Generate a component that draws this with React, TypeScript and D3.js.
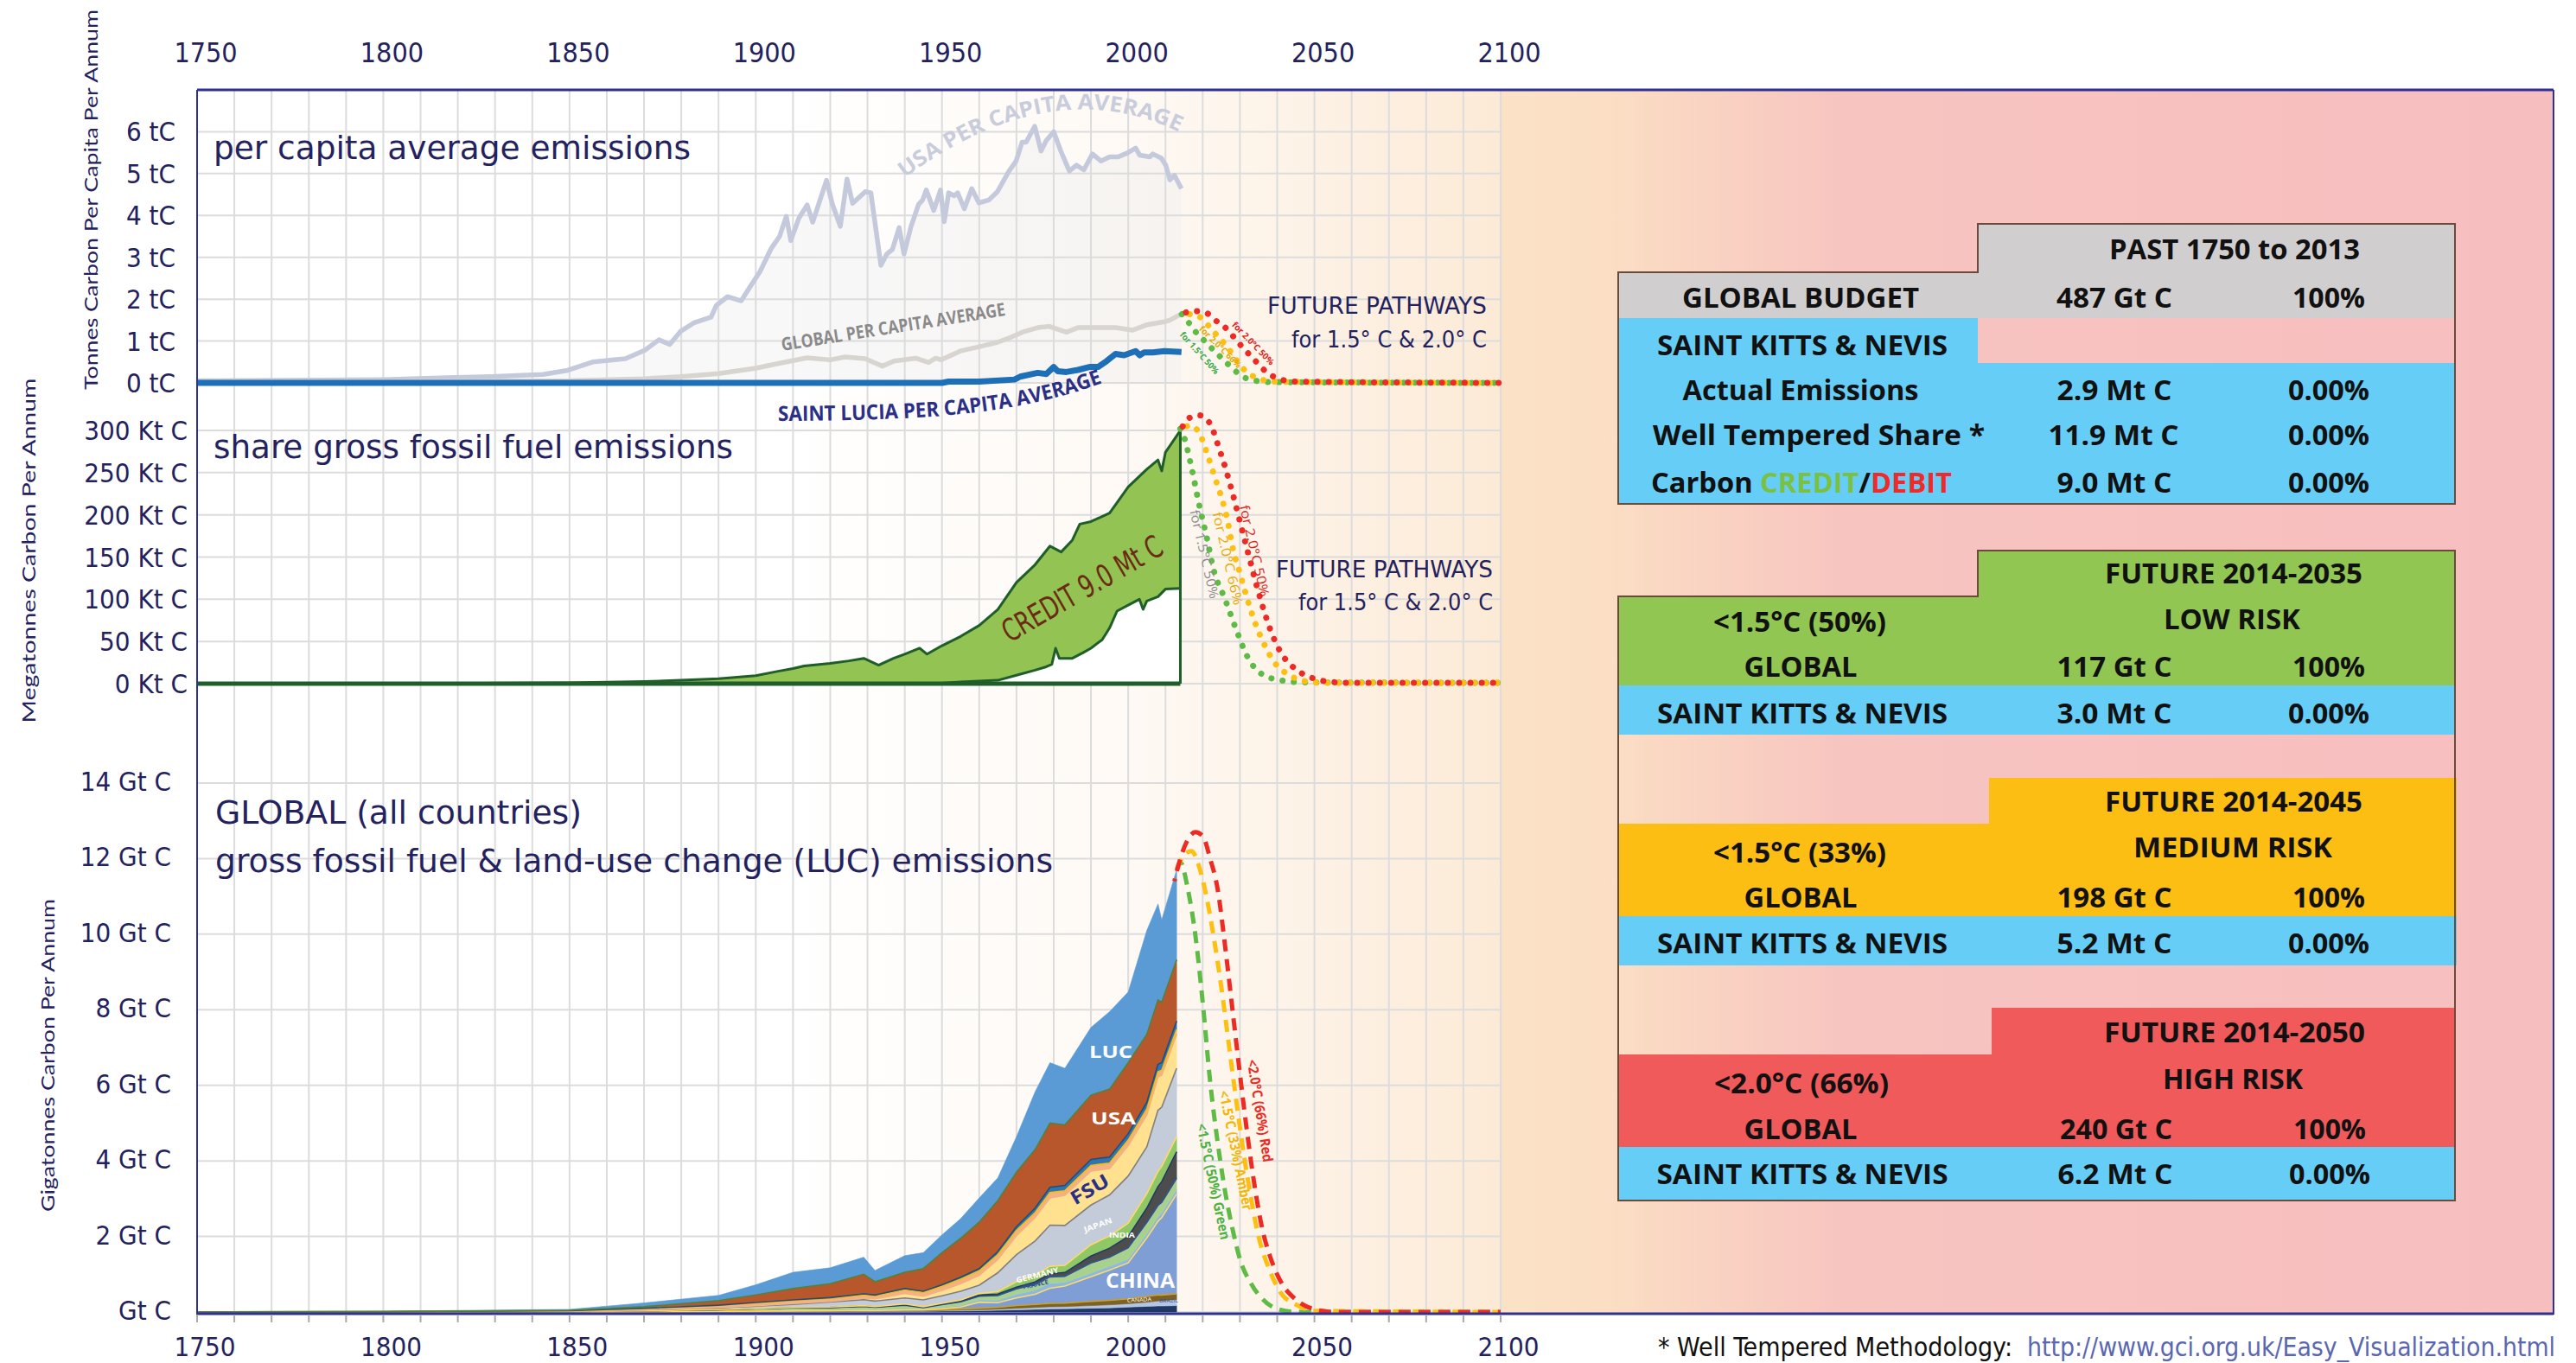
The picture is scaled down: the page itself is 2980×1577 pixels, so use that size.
import React from "react";
import * as d3 from "d3";

// ---------- per capita panel (tonnes C per capita) ----------
const usaYears = [1750, 1800, 1829, 1842.8, 1849.5, 1856.2, 1865, 1870.2, 1874, 1876.9, 1879.8, 1883.5, 1888, 1889.4, 1892.4, 1896.1, 1898.3, 1901.2, 1904.2, 1906.4, 1908.2, 1909.4, 1911.6, 1913.8, 1915.3, 1919, 1920.5, 1922.7, 1924.5, 1926, 1929.4, 1930.9, 1933.6, 1935.2, 1936.7, 1938.5, 1939.8, 1941.7, 1943.7, 1944.8, 1945.8, 1947.8, 1949.6, 1950.6, 1951.8, 1953.3, 1954.2, 1956, 1958, 1959.9, 1962.6, 1964.9, 1968, 1969.9, 1971.5, 1972.6, 1974.9, 1976.6, 1978, 1980, 1981.9, 1984.2, 1986.1, 1988.1, 1990.4, 1992.7, 1995, 1997.3, 1999.7, 2002, 2003.1, 2005.8, 2006.6, 2008.9, 2010.1, 2011.2, 2012.4, 2014.3];
const usaValues = [0.05, 0.08, 0.15, 0.2, 0.3, 0.5, 0.58, 0.78, 1.03, 0.92, 1.23, 1.44, 1.57, 1.85, 2.06, 1.96, 2.27, 2.67, 3.22, 3.5, 3.98, 3.4, 3.94, 4.25, 3.84, 4.84, 4.29, 3.74, 4.87, 4.29, 4.57, 4.54, 2.81, 3.08, 3.19, 3.71, 3.08, 3.74, 4.26, 4.37, 4.61, 4.12, 4.61, 3.85, 4.54, 4.47, 4.54, 4.16, 4.64, 4.3, 4.37, 4.57, 5.06, 5.3, 5.75, 5.75, 6.13, 5.54, 5.79, 6.0, 5.54, 5.06, 5.2, 5.09, 5.47, 5.3, 5.4, 5.4, 5.49, 5.61, 5.44, 5.4, 5.47, 5.37, 5.2, 4.85, 4.96, 4.64];

const globalYears = [1750, 1800, 1850, 1870, 1880, 1890, 1900, 1906.4, 1913.8, 1920, 1924, 1929.4, 1934, 1937.1, 1942.9, 1946.4, 1948.3, 1949.8, 1954.9, 1960.3, 1964.9, 1968, 1971.5, 1975.7, 1978.8, 1983.4, 1986.5, 1991.2, 1996.6, 2001.2, 2005.1, 2009.7, 2011.2, 2013.9];
const globalValues = [0.02, 0.03, 0.05, 0.1, 0.15, 0.22, 0.35, 0.47, 0.6, 0.55, 0.62, 0.58, 0.4, 0.52, 0.59, 0.49, 0.59, 0.55, 0.76, 0.87, 0.97, 1.07, 1.21, 1.32, 1.35, 1.21, 1.32, 1.32, 1.32, 1.26, 1.39, 1.46, 1.5, 1.63];

const luciaYears = [1750, 1950, 1951.8, 1960, 1969.5, 1971, 1975.7, 1978, 1980, 1981.1, 1983.4, 1986.5, 1989.6, 1991.9, 1994.2, 1996.6, 1998.9, 2002, 2003.1, 2004.3, 2006.6, 2009.7, 2014.3];
const luciaValues = [0, 0, 0.03, 0.03, 0.08, 0.15, 0.24, 0.21, 0.38, 0.28, 0.26, 0.31, 0.38, 0.38, 0.52, 0.69, 0.66, 0.76, 0.66, 0.73, 0.73, 0.76, 0.74];

const pc15Years = [2014.4, 2016.6, 2018, 2020.3, 2023.3, 2026.2, 2029.1, 2032, 2038, 2100];
const pc15Values = [1.64, 1.4, 1.23, 1.02, 0.75, 0.5, 0.26, 0.1, 0.02, 0];
const pc20aYears = [2014.4, 2017.3, 2020.3, 2022.5, 2024.7, 2026.9, 2029.1, 2031.3, 2034.3, 2039.4, 2100];
const pc20aValues = [1.64, 1.64, 1.5, 1.26, 1.06, 0.82, 0.54, 0.3, 0.13, 0.03, 0];
const pc20bYears = [2014.4, 2017.3, 2021, 2023.3, 2025.5, 2028.4, 2030.7, 2033.6, 2036.6, 2039.5, 2044.7, 2100];
const pc20bValues = [1.64, 1.72, 1.67, 1.5, 1.37, 1.09, 0.85, 0.58, 0.3, 0.13, 0.03, 0];

// ---------- share panel (Kt C) ----------
const shareYears = [1750, 1800, 1850, 1870, 1880, 1890, 1900, 1906, 1910, 1913, 1920, 1925, 1929, 1933, 1937, 1940, 1944, 1946, 1950, 1955, 1960, 1965, 1970, 1975, 1979, 1982, 1985, 1987, 1990, 1995, 2000, 2005, 2008, 2009, 2010, 2014];
const shareValues = [0, 0.1, 1, 2.5, 4, 6, 9.5, 14.7, 18, 21, 24, 27, 30, 22, 30, 35, 42, 35, 45, 56, 69, 88, 120, 141, 163, 156, 170, 189, 192, 202, 233, 254, 265, 252, 274, 300];
const actualYears = [1750, 1900, 1950, 1955, 1965, 1970, 1975, 1978, 1979.5, 1980.5, 1981.5, 1985, 1988, 1990, 1993, 1995, 1997, 2000, 2003, 2004, 2005, 2008, 2010, 2014];
const actualValues = [0, 0, 0.5, 2, 4, 10, 16, 20, 23, 42, 30, 30, 37, 42, 52, 66, 86, 93, 100, 88, 98, 103, 112, 113];

const sh15Years = [2014, 2015, 2017, 2019, 2021, 2023, 2026, 2029, 2032, 2036, 2041, 2047, 2100];
const sh15Values = [302, 292, 256, 213, 175, 134, 100, 64, 32, 11, 4, 1.5, 1];
const sh20aYears = [2014, 2016.7, 2019.3, 2021.3, 2023.3, 2025.3, 2026.7, 2028, 2030, 2032, 2034, 2036.7, 2039.3, 2043.3, 2047.3, 2052.7, 2100];
const sh20aValues = [300, 306, 295, 271, 244, 217, 193, 162, 131, 100, 73, 45, 25, 10, 3, 1, 1];
const sh20bYears = [2014, 2016.5, 2019, 2022, 2024, 2026, 2028, 2030, 2032, 2034, 2036, 2038, 2040.7, 2044.7, 2048.7, 2052.7, 2059, 2100];
const sh20bValues = [300, 315, 318, 308, 284, 257, 226, 192, 158, 124, 93, 66, 39, 18, 8, 3, 1, 1];

// ---------- global panel (Gt C), stacked bottom -> top ----------
const stackYears = [1750, 1800, 1850, 1870, 1890, 1900, 1910, 1920, 1929, 1932, 1940, 1945, 1950, 1955, 1960, 1965, 1970, 1975, 1979, 1983, 1990, 1995, 2000, 2005, 2008, 2009, 2013];
const other = [0, 0, 0.001, 0.003, 0.006, 0.008, 0.01, 0.012, 0.015, 0.014, 0.018, 0.02, 0.025, 0.03, 0.035, 0.045, 0.06, 0.07, 0.08, 0.085, 0.1, 0.11, 0.13, 0.15, 0.16, 0.16, 0.17];
const brazil = [0, 0, 0.001, 0.002, 0.003, 0.004, 0.005, 0.006, 0.008, 0.007, 0.01, 0.012, 0.015, 0.02, 0.025, 0.03, 0.04, 0.05, 0.06, 0.06, 0.07, 0.08, 0.09, 0.11, 0.13, 0.14, 0.16];
const canada = [0, 0, 0.001, 0.003, 0.006, 0.008, 0.012, 0.014, 0.016, 0.012, 0.018, 0.02, 0.025, 0.03, 0.04, 0.05, 0.07, 0.08, 0.09, 0.09, 0.11, 0.12, 0.13, 0.15, 0.16, 0.15, 0.15];
const china = [0, 0, 0, 0, 0.001, 0.002, 0.003, 0.004, 0.006, 0.006, 0.01, 0.006, 0.02, 0.05, 0.16, 0.12, 0.2, 0.27, 0.4, 0.45, 0.65, 0.8, 0.95, 1.55, 1.95, 2.05, 2.64];
const france = [0, 0.001, 0.004, 0.01, 0.017, 0.02, 0.025, 0.03, 0.035, 0.032, 0.035, 0.02, 0.04, 0.05, 0.06, 0.07, 0.1, 0.11, 0.13, 0.1, 0.1, 0.1, 0.1, 0.11, 0.12, 0.12, 0.12];
const germany = [0, 0.001, 0.004, 0.012, 0.025, 0.04, 0.055, 0.05, 0.07, 0.055, 0.09, 0.04, 0.07, 0.09, 0.1, 0.12, 0.14, 0.15, 0.17, 0.16, 0.27, 0.24, 0.3, 0.3, 0.3, 0.28, 0.3];
const india = [0, 0, 0, 0.001, 0.003, 0.004, 0.005, 0.006, 0.008, 0.008, 0.01, 0.012, 0.018, 0.022, 0.03, 0.04, 0.05, 0.065, 0.08, 0.1, 0.18, 0.24, 0.3, 0.38, 0.5, 0.55, 0.7];
const japan = [0, 0, 0, 0, 0.002, 0.003, 0.005, 0.008, 0.01, 0.01, 0.02, 0.01, 0.015, 0.025, 0.04, 0.07, 0.14, 0.18, 0.2, 0.19, 0.3, 0.32, 0.35, 0.38, 0.4, 0.4, 0.4];
const rest = [0.001, 0.002, 0.009, 0.027, 0.047, 0.064, 0.084, 0.135, 0.157, 0.144, 0.159, 0.18, 0.202, 0.233, 0.22, 0.495, 0.72, 0.905, 1.09, 1.055, 1.05, 1.09, 1.25, 1.24, 1.62, 1.57, 1.81];
const fsu = [0, 0, 0.001, 0.003, 0.007, 0.015, 0.02, 0.015, 0.04, 0.06, 0.12, 0.1, 0.14, 0.2, 0.26, 0.35, 0.5, 0.62, 0.72, 0.8, 0.9, 0.7, 0.8, 0.85, 0.88, 0.85, 0.9];
const uk = [0.002, 0.005, 0.012, 0.035, 0.055, 0.07, 0.08, 0.08, 0.09, 0.08, 0.1, 0.1, 0.11, 0.12, 0.12, 0.13, 0.14, 0.13, 0.14, 0.12, 0.15, 0.14, 0.15, 0.15, 0.14, 0.13, 0.13];
const europe = [0, 0, 0.002, 0.004, 0.008, 0.012, 0.016, 0.02, 0.025, 0.022, 0.03, 0.03, 0.04, 0.05, 0.06, 0.08, 0.1, 0.12, 0.14, 0.14, 0.16, 0.16, 0.17, 0.18, 0.2, 0.2, 0.22];
const usa = [0.0003, 0.001, 0.01, 0.04, 0.12, 0.2, 0.3, 0.37, 0.52, 0.35, 0.43, 0.6, 0.85, 1.03, 1.23, 1.35, 1.44, 1.55, 1.7, 1.6, 1.7, 1.8, 1.88, 1.8, 1.7, 1.6, 1.62];
const luc = [0.004, 0.011, 0.025, 0.1, 0.14, 0.27, 0.43, 0.42, 0.45, 0.3, 0.44, 0.42, 0.47, 0.52, 0.64, 0.6, 0.94, 1.53, 1.6, 1.5, 1.79, 2.05, 1.87, 2.75, 2.54, 2.18, 2.38];

const layerKeys = ["other", "brazil", "canada", "china", "france", "germany", "india", "japan", "rest", "fsu", "uk", "europe", "usa", "luc"];
const layerData: Record<string, number[]> = { other, brazil, canada, china, france, germany, india, japan, rest, fsu, uk, europe, usa, luc };
const layerColors: Record<string, string> = {
  other: "#1F3864", brazil: "#B4C6E7", canada: "#7F6124", china: "#7F9ED6", france: "#8DB8E4",
  germany: "#A9D18E", india: "#4D4D4D", japan: "#8FC866", rest: "#C3CCD8", fsu: "#FFE18F",
  uk: "#F4B183", europe: "#2E75B6", usa: "#B7572B", luc: "#5B9BD5",
};
// thin coloured edge drawn on the top of some layers (the original has many thin stripes)
const layerEdges: Record<string, string> = {
  canada: "#C9A227", china: "#FFD966", germany: "#2F5597", india: "#203864", japan: "#FFD966",
  rest: "#7F7F7F", fsu: "#F4B183", uk: "#FFC000", europe: "#1F4E79", usa: "#548235",
};

const gl15Years = [2013, 2014, 2016, 2018, 2020, 2022, 2024, 2026, 2028, 2030, 2033, 2036, 2040, 2045, 2100];
const gl15Values = [11.7, 11.9, 11.2, 10.0, 8.2, 6.1, 4.5, 3.2, 2.2, 1.4, 0.75, 0.35, 0.08, 0, 0];
const gl33Years = [2013, 2015, 2017, 2019, 2021, 2023, 2025, 2027, 2029, 2031, 2033, 2035, 2038, 2041, 2045, 2050, 2100];
const gl33Values = [11.7, 12.1, 12.2, 11.8, 11.0, 9.9, 8.6, 7.1, 5.6, 4.2, 3.0, 2.0, 1.1, 0.5, 0.2, 0.03, 0];
const gl20Years = [2012.4, 2014, 2016, 2018, 2020, 2022, 2024, 2026, 2028, 2030, 2032, 2034, 2036, 2038, 2041, 2045, 2050, 2055, 2100];
const gl20Values = [11.4, 12.0, 12.5, 12.7, 12.6, 12.0, 11.2, 9.7, 8.0, 6.3, 4.7, 3.3, 2.2, 1.5, 0.8, 0.33, 0.07, 0, 0];

const pcTicks = [0, 1, 2, 3, 4, 5, 6];
const shareTicks = [0, 50, 100, 150, 200, 250, 300];
const globalTicks = [0, 2, 4, 6, 8, 10, 12, 14];
const yearTicks = [1750, 1800, 1850, 1900, 1950, 2000, 2050, 2100];

const NAVY = "#24225E";
const NARROW = "'Liberation Sans Narrow', 'DejaVu Sans Condensed', 'Open Sans', sans-serif";
const BOLD = "'Open Sans', 'Liberation Sans', sans-serif";
const GEO = "Lato, 'DejaVu Sans', sans-serif";
const GREEN = "#5DBB46";
const AMBER = "#FDC010";
const RED = "#EE2A24";

const zip = (xs: number[], ys: number[]) => xs.map((v, i) => [v, ys[i]] as [number, number]);

export default function App() {
  const x = d3.scaleLinear().domain([1750, 2100]).range([228, 1736]);
  const y1 = d3.scaleLinear().domain([0, 7]).range([443, 104]);
  const y2 = d3.scaleLinear().domain([0, 300]).range([791, 498]);
  const y3 = d3.scaleLinear().domain([0, 14]).range([1518, 906]);

  const line1 = d3.line<[number, number]>().x((d) => x(d[0])).y((d) => y1(d[1]));
  const smooth1 = d3.line<[number, number]>().x((d) => x(d[0])).y((d) => y1(d[1])).curve(d3.curveMonotoneX);
  const area1 = d3.area<[number, number]>().x((d) => x(d[0])).y0(y1(0)).y1((d) => y1(d[1]));
  const line2 = d3.line<[number, number]>().x((d) => x(d[0])).y((d) => y2(d[1]));
  const smooth2 = d3.line<[number, number]>().x((d) => x(d[0])).y((d) => y2(d[1])).curve(d3.curveMonotoneX);
  const area2 = d3.area<[number, number]>().x((d) => x(d[0])).y0(y2(0)).y1((d) => y2(d[1]));
  const smooth3 = d3.line<[number, number]>().x((d) => x(d[0])).y((d) => y3(d[1])).curve(d3.curveMonotoneX);

  const rows = stackYears.map((year, i) => {
    const r: any = { year };
    layerKeys.forEach((k) => (r[k] = layerData[k][i]));
    return r;
  });
  const series = d3.stack<any>().keys(layerKeys)(rows);
  const stackArea = d3.area<any>().x((d) => x(d.data.year)).y0((d) => y3(d[0])).y1((d) => y3(d[1]));
  const stackTop = d3.line<any>().x((d) => x(d.data.year)).y((d) => y3(d[1]));

  const decades = d3.range(1760, 2101, 10);

  const dots = { strokeWidth: 7, strokeLinecap: "round" as const, strokeDasharray: "0.1 13", fill: "none" };
  const dashes = { strokeWidth: 5, strokeDasharray: "14 9", fill: "none" };

  const cell = (t: string, cx: number, cy: number, len: number, extra: any = {}) => (
    <text x={cx} y={cy} textAnchor="middle" dominantBaseline="central" fontFamily={BOLD} fontWeight={700}
      fontSize={32} fill="#111" textLength={len} lengthAdjust="spacingAndGlyphs" {...extra}>{t}</text>
  );
  const rot = (t: string, cx: number, cy: number, angle: number, len: number, fill: string, size: number, extra: any = {}) => (
    <text transform={`translate(${cx},${cy}) rotate(${angle})`} textAnchor="middle" dominantBaseline="central"
      fontFamily={BOLD} fontSize={size} fill={fill} textLength={len} lengthAdjust="spacingAndGlyphs" {...extra}>{t}</text>
  );

  return (
    <svg width={2980} height={1577} style={{ position: "fixed", left: 0, top: 0, background: "#fff" }}>
      <defs>
        <linearGradient id="plotBg" gradientUnits="userSpaceOnUse" x1={228} x2={1736} y1={0} y2={0}>
          <stop offset="0" stopColor="#FFFFFF" />
          <stop offset="0.45" stopColor="#FFFFFF" />
          <stop offset="0.72" stopColor="#FEF9F4" />
          <stop offset="1" stopColor="#FCEAD6" />
        </linearGradient>
        <linearGradient id="rightBg" gradientUnits="userSpaceOnUse" x1={1736} x2={2954} y1={0} y2={0}>
          <stop offset="0" stopColor="#FBE2C6" />
          <stop offset="0.1" stopColor="#FBDEC4" />
          <stop offset="0.33" stopColor="#F7C4C0" />
          <stop offset="1" stopColor="#F7BEBF" />
        </linearGradient>
        <path id="usaArc" d="M 1048 205 Q 1215 82 1362 152" fill="none" />
        <path id="luciaArc" d="M 900 487 C 1060 486, 1170 483, 1284 440" fill="none" />
      </defs>

      {/* backgrounds */}
      <rect x={228} y={104} width={1508} height={1417} fill="url(#plotBg)" />
      <rect x={1736} y={104} width={1218} height={1417} fill="url(#rightBg)" />

      {/* USA per capita shading */}
      <path d={area1(zip(usaYears, usaValues)) || ""} fill="#EBEBEF" opacity={0.35} />

      {/* grid */}
      {decades.map((yr) => (
        <line key={yr} x1={x(yr)} x2={x(yr)} y1={104} y2={1518} stroke="#DCDCDC" strokeWidth={2} />
      ))}
      {pcTicks.map((v) => <line key={"g1" + v} x1={228} x2={1736} y1={y1(v)} y2={y1(v)} stroke="#DCDCDC" strokeWidth={2} />)}
      {shareTicks.map((v) => <line key={"g2" + v} x1={228} x2={1736} y1={y2(v)} y2={y2(v)} stroke="#DCDCDC" strokeWidth={2} />)}
      {globalTicks.map((v) => <line key={"g3" + v} x1={228} x2={1736} y1={y3(v)} y2={y3(v)} stroke="#DCDCDC" strokeWidth={2} />)}

      {/* ---------- panel 1 ---------- */}
      <path d={line1(zip(usaYears, usaValues)) || ""} fill="none" stroke="#C4C9DB" strokeWidth={5.5} strokeLinejoin="round" />
      <path d={line1(zip(globalYears, globalValues)) || ""} fill="none" stroke="#D8D4CF" strokeWidth={5.5} strokeLinejoin="round" />
      <path d={line1(zip(luciaYears, luciaValues)) || ""} fill="none" stroke="#1D6FB8" strokeWidth={7} strokeLinejoin="round" />
      <path d={smooth1(zip(pc15Years, pc15Values)) || ""} stroke={GREEN} {...dots} />
      <path d={smooth1(zip(pc20aYears, pc20aValues)) || ""} stroke={AMBER} {...dots} strokeDashoffset={4} />
      <path d={smooth1(zip(pc20bYears, pc20bValues)) || ""} stroke={RED} {...dots} strokeDashoffset={8} />

      <text x={247} y={184} fontFamily={NARROW} fontSize={38} fill={NAVY} textLength={552} lengthAdjust="spacingAndGlyphs">per capita average emissions</text>
      <text fontFamily={BOLD} fontWeight={700} fontSize={25} fill="#C9CDDB">
        <textPath href="#usaArc" startOffset="50%" textAnchor="middle" textLength={340} lengthAdjust="spacingAndGlyphs">USA PER CAPITA AVERAGE</textPath>
      </text>
      <text transform="translate(905,406) rotate(-9)" fontFamily={BOLD} fontWeight={700} fontSize={21} fill="#8A8A8A" textLength={262} lengthAdjust="spacingAndGlyphs">GLOBAL PER CAPITA AVERAGE</text>
      <text fontFamily={BOLD} fontWeight={700} fontSize={24} fill="#2B2F86">
        <textPath href="#luciaArc" textLength={380} lengthAdjust="spacingAndGlyphs">SAINT LUCIA PER CAPITA AVERAGE</textPath>
      </text>
      <text x={1720} y={363} textAnchor="end" fontFamily={NARROW} fontSize={26} fill={NAVY} textLength={254} lengthAdjust="spacingAndGlyphs">FUTURE PATHWAYS</text>
      <text x={1720} y={402} textAnchor="end" fontFamily={NARROW} fontSize={26} fill={NAVY} textLength={226} lengthAdjust="spacingAndGlyphs">for 1.5° C &amp; 2.0° C</text>
      {rot("for 1.5°C 50%", 1388, 408, 48, 62, "#3BAA48", 10, { fontWeight: 700 })}
      {rot("for 2.0°C 66%", 1412, 401, 45, 64, "#E8A800", 10, { fontWeight: 700 })}
      {rot("for 2.0°C 50%", 1450, 397, 46, 65, "#E02020", 10, { fontWeight: 700 })}

      {/* ---------- panel 2 ---------- */}
      <path d={area2(zip(shareYears, shareValues)) || ""} fill="#92C353" />
      <path d={area2(zip(actualYears, actualValues)) || ""} fill="#FFFFFF" />
      <path d={line2(zip(shareYears, shareValues)) || ""} fill="none" stroke="#1F5E2A" strokeWidth={3} strokeLinejoin="round" />
      <path d={line2(zip(actualYears, actualValues)) || ""} fill="none" stroke="#1F5E2A" strokeWidth={3} strokeLinejoin="round" />
      <line x1={x(1750)} x2={x(2014)} y1={y2(0)} y2={y2(0)} stroke="#1F5E2A" strokeWidth={5} />
      <line x1={x(2014)} x2={x(2014)} y1={y2(0)} y2={y2(300)} stroke="#1F5E2A" strokeWidth={3} />
      <path d={smooth2(zip(sh15Years, sh15Values)) || ""} stroke={GREEN} {...dots} />
      <path d={smooth2(zip(sh20aYears, sh20aValues)) || ""} stroke={AMBER} {...dots} strokeDashoffset={4} />
      <path d={smooth2(zip(sh20bYears, sh20bValues)) || ""} stroke={RED} {...dots} strokeDashoffset={8} />

      <text x={247} y={530} fontFamily={NARROW} fontSize={38} fill={NAVY} textLength={601} lengthAdjust="spacingAndGlyphs">share gross fossil fuel emissions</text>
      <text transform="translate(1258,692) rotate(-30)" textAnchor="middle" fontFamily={NARROW} fontSize={36} fill="#6B2A12" textLength={208} lengthAdjust="spacingAndGlyphs">CREDIT 9.0 Mt C</text>
      <text x={1727} y={668} textAnchor="end" fontFamily={NARROW} fontSize={26} fill={NAVY} textLength={251} lengthAdjust="spacingAndGlyphs">FUTURE PATHWAYS</text>
      <text x={1727} y={706} textAnchor="end" fontFamily={NARROW} fontSize={26} fill={NAVY} textLength={225} lengthAdjust="spacingAndGlyphs">for 1.5° C &amp; 2.0° C</text>
      {rot("for 1.5°C 50%", 1394, 641, 77, 105, "#8C8C8C", 15)}
      {rot("for 2.0°C 66%", 1421, 646, 77, 110, "#E8A800", 15)}
      {rot("for 2.0°C 50%", 1452, 637, 77, 108, "#E02020", 15)}

      {/* ---------- panel 3 ---------- */}
      {series.map((s) => (
        <path key={s.key} d={stackArea(s as any) || ""} fill={layerColors[s.key]} stroke={layerColors[s.key]} strokeWidth={0.6} />
      ))}
      {series.filter((s) => layerEdges[s.key]).map((s) => (
        <path key={"e" + s.key} d={stackTop(s as any) || ""} fill="none" stroke={layerEdges[s.key]} strokeWidth={1.6} />
      ))}
      <path d={smooth3(zip(gl15Years, gl15Values)) || ""} stroke={GREEN} {...dashes} />
      <path d={smooth3(zip(gl33Years, gl33Values)) || ""} stroke={AMBER} {...dashes} />
      <path d={smooth3(zip(gl20Years, gl20Values)) || ""} stroke={RED} {...dashes} strokeDashoffset={11} />

      <text x={249} y={953} fontFamily={NARROW} fontSize={38} fill={NAVY} textLength={424} lengthAdjust="spacingAndGlyphs">GLOBAL (all countries)</text>
      <text x={249} y={1009} fontFamily={NARROW} fontSize={38} fill={NAVY} textLength={969} lengthAdjust="spacingAndGlyphs">gross fossil fuel &amp; land-use change (LUC) emissions</text>
      {rot("LUC", 1285, 1216, 0, 50, "#FFFFFF", 20, { fontWeight: 700 })}
      {rot("USA", 1288, 1293, 0, 52, "#FFFFFF", 20, { fontWeight: 700 })}
      {rot("FSU", 1260, 1375, -30, 48, "#2B2F86", 22, { fontWeight: 700 })}
      {rot("JAPAN", 1270, 1417, -20, 34, "#FFFFFF", 9, { fontWeight: 700 })}
      {rot("INDIA", 1298, 1428, 0, 30, "#FFFFFF", 9, { fontWeight: 700 })}
      {rot("GERMANY", 1200, 1475, -14, 50, "#FFFFFF", 9, { fontWeight: 700 })}
      {rot("FRANCE", 1198, 1486, -12, 30, "#2B4F9E", 7, { fontWeight: 700 })}
      {rot("CHINA", 1319, 1480, 0, 80, "#FFFFFF", 24, { fontWeight: 700 })}
      {rot("CANADA", 1318, 1504, -3, 28, "#FFFFFF", 6)}
      {rot("BRAZIL", 1352, 1505, 0, 22, "#2B4F9E", 6)}
      {rot("<2.0°C (66%) Red", 1458, 1285, 81, 120, RED, 16, { fontWeight: 700 })}
      {rot("<1.5°C (33%) Amber", 1430, 1331, 78.5, 141, "#F2B705", 16, { fontWeight: 700 })}
      {rot("<1.5°C (50%) Green", 1404, 1367, 78, 137, "#4FB244", 16, { fontWeight: 700 })}

      {/* ---------- frame & axes ---------- */}
      <line x1={228} x2={2954} y1={104} y2={104} stroke="#2E3192" strokeWidth={3} />
      <line x1={228} x2={228} y1={104} y2={1521} stroke="#2E3192" strokeWidth={2} />
      <line x1={2954} x2={2954} y1={104} y2={1521} stroke="#2E3192" strokeWidth={2} />
      <line x1={228} x2={2954} y1={1520} y2={1520} stroke="#2E3192" strokeWidth={3} />
      {[1750, ...decades].map((yr) => (
        <line key={"t" + yr} x1={x(yr)} x2={x(yr)} y1={1521} y2={1530} stroke="#AAAAAA" strokeWidth={2} />
      ))}
      {yearTicks.map((yr) => (
        <g key={"yl" + yr}>
          <text x={x(yr) + 10} y={72} textAnchor="middle" fontFamily={NARROW} fontSize={32} fill={NAVY}>{yr}</text>
          <text x={x(yr) + 9} y={1569} textAnchor="middle" fontFamily={NARROW} fontSize={31} fill={NAVY}>{yr}</text>
        </g>
      ))}
      {pcTicks.map((v) => (
        <text key={"l1" + v} x={203} y={y1(v)} textAnchor="end" dominantBaseline="central" fontFamily={NARROW} fontSize={31} fill={NAVY}>{`${v} tC`}</text>
      ))}
      {shareTicks.map((v) => (
        <text key={"l2" + v} x={217} y={y2(v)} textAnchor="end" dominantBaseline="central" fontFamily={NARROW} fontSize={31} fill={NAVY}>{`${v} Kt C`}</text>
      ))}
      {globalTicks.map((v) => (
        <text key={"l3" + v} x={198} y={y3(v) - 2} textAnchor="end" dominantBaseline="central" fontFamily={NARROW} fontSize={31} fill={NAVY}>{v === 0 ? "Gt C" : `${v} Gt C`}</text>
      ))}
      <text transform="translate(104,231) rotate(-90)" textAnchor="middle" dominantBaseline="central" fontFamily={GEO} fontSize={22} fill={NAVY} textLength={440} lengthAdjust="spacingAndGlyphs">Tonnes Carbon Per Capita Per Annum</text>
      <text transform="translate(32,637) rotate(-90)" textAnchor="middle" dominantBaseline="central" fontFamily={GEO} fontSize={22} fill={NAVY} textLength={399} lengthAdjust="spacingAndGlyphs">Megatonnes Carbon Per Annum</text>
      <text transform="translate(54,1221) rotate(-90)" textAnchor="middle" dominantBaseline="central" fontFamily={GEO} fontSize={22} fill={NAVY} textLength={362} lengthAdjust="spacingAndGlyphs">Gigatonnes Carbon Per Annum</text>

      {/* ---------- tables ---------- */}
      <rect x={2288} y={259} width={552} height={58} fill="#D0CECE" />
      <rect x={1872} y={315} width={968} height={53} fill="#D0CECE" />
      <rect x={1872} y={368} width={416} height={52} fill="#66CDF6" />
      <rect x={1872} y={420} width={968} height={163} fill="#66CDF6" />
      <path d="M 2288 259 H 2840 V 583 H 1872 V 315 H 2288 Z" fill="none" stroke="#6B4A3A" strokeWidth={2} />
      {cell("PAST 1750 to 2013", 2585, 287, 290)}
      {cell("GLOBAL BUDGET", 2083, 343, 274)}
      {cell("487 Gt C", 2446, 343, 134)}
      {cell("100%", 2694, 343, 84)}
      {cell("SAINT KITTS & NEVIS", 2085, 398, 336)}
      {cell("Actual Emissions", 2083, 450, 273)}
      {cell("2.9 Mt C", 2446, 450, 133)}
      {cell("0.00%", 2694, 450, 94)}
      {cell("Well Tempered Share *", 2104, 502, 384)}
      {cell("11.9 Mt C", 2445, 502, 151)}
      {cell("0.00%", 2694, 502, 94)}
      <text x={2084} y={557} textAnchor="middle" dominantBaseline="central" fontFamily={BOLD} fontWeight={700} fontSize={32} fill="#111" textLength={348} lengthAdjust="spacingAndGlyphs">
        Carbon <tspan fill="#7AC143">CREDIT</tspan>/<tspan fill="#EE2B2B">DEBIT</tspan>
      </text>
      {cell("9.0 Mt C", 2446, 557, 133)}
      {cell("0.00%", 2694, 557, 94)}

      <rect x={2288} y={637} width={552} height={53} fill="#92C653" />
      <rect x={1872} y={690} width={968} height={103} fill="#92C653" />
      <rect x={1872} y={793} width={968} height={57} fill="#66CDF6" />
      {cell("FUTURE 2014-2035", 2584, 662, 298)}
      {cell("<1.5°C (50%)", 2082, 718, 200)}
      {cell("LOW RISK", 2582, 715, 158)}
      {cell("GLOBAL", 2083, 770, 131)}
      {cell("117 Gt C", 2446, 770, 133)}
      {cell("100%", 2694, 770, 84)}
      {cell("SAINT KITTS & NEVIS", 2085, 824, 336)}
      {cell("3.0 Mt C", 2446, 824, 133)}
      {cell("0.00%", 2694, 824, 94)}

      <rect x={2301} y={900} width={541} height={53} fill="#FCBE12" />
      <rect x={1872} y={953} width={970} height={107} fill="#FCBE12" />
      <rect x={1872} y={1060} width={970} height={57} fill="#66CDF6" />
      {cell("FUTURE 2014-2045", 2584, 926, 298)}
      {cell("<1.5°C (33%)", 2082, 985, 200)}
      {cell("MEDIUM RISK", 2583, 979, 230)}
      {cell("GLOBAL", 2083, 1037, 131)}
      {cell("198 Gt C", 2446, 1037, 133)}
      {cell("100%", 2694, 1037, 84)}
      {cell("SAINT KITTS & NEVIS", 2085, 1090, 336)}
      {cell("5.2 Mt C", 2446, 1090, 133)}
      {cell("0.00%", 2694, 1090, 94)}

      <rect x={2304} y={1166} width={536} height={54} fill="#F05A5B" />
      <rect x={1872} y={1220} width={968} height={107} fill="#F05A5B" />
      <rect x={1872} y={1327} width={968} height={62} fill="#66CDF6" />
      {cell("FUTURE 2014-2050", 2585, 1193, 302)}
      {cell("<2.0°C (66%)", 2084, 1252, 202)}
      {cell("HIGH RISK", 2583, 1247, 162)}
      {cell("GLOBAL", 2083, 1305, 131)}
      {cell("240 Gt C", 2448, 1305, 130)}
      {cell("100%", 2695, 1305, 84)}
      {cell("SAINT KITTS & NEVIS", 2085, 1357, 337)}
      {cell("6.2 Mt C", 2447, 1357, 133)}
      {cell("0.00%", 2695, 1357, 94)}
      <path d="M 2288 637 H 2840 V 1389 H 1872 V 690 H 2288 Z" fill="none" stroke="#6B4A3A" strokeWidth={2} />

      {/* footer */}
      <text x={1918} y={1569} fontFamily={NARROW} fontSize={30} fill="#111" textLength={410} lengthAdjust="spacingAndGlyphs">* Well Tempered Methodology:</text>
      <text x={2345} y={1569} fontFamily={NARROW} fontSize={30} fill="#5A67B0" textLength={611} lengthAdjust="spacingAndGlyphs">http://www.gci.org.uk/Easy_Visualization.html</text>
    </svg>
  );
}
